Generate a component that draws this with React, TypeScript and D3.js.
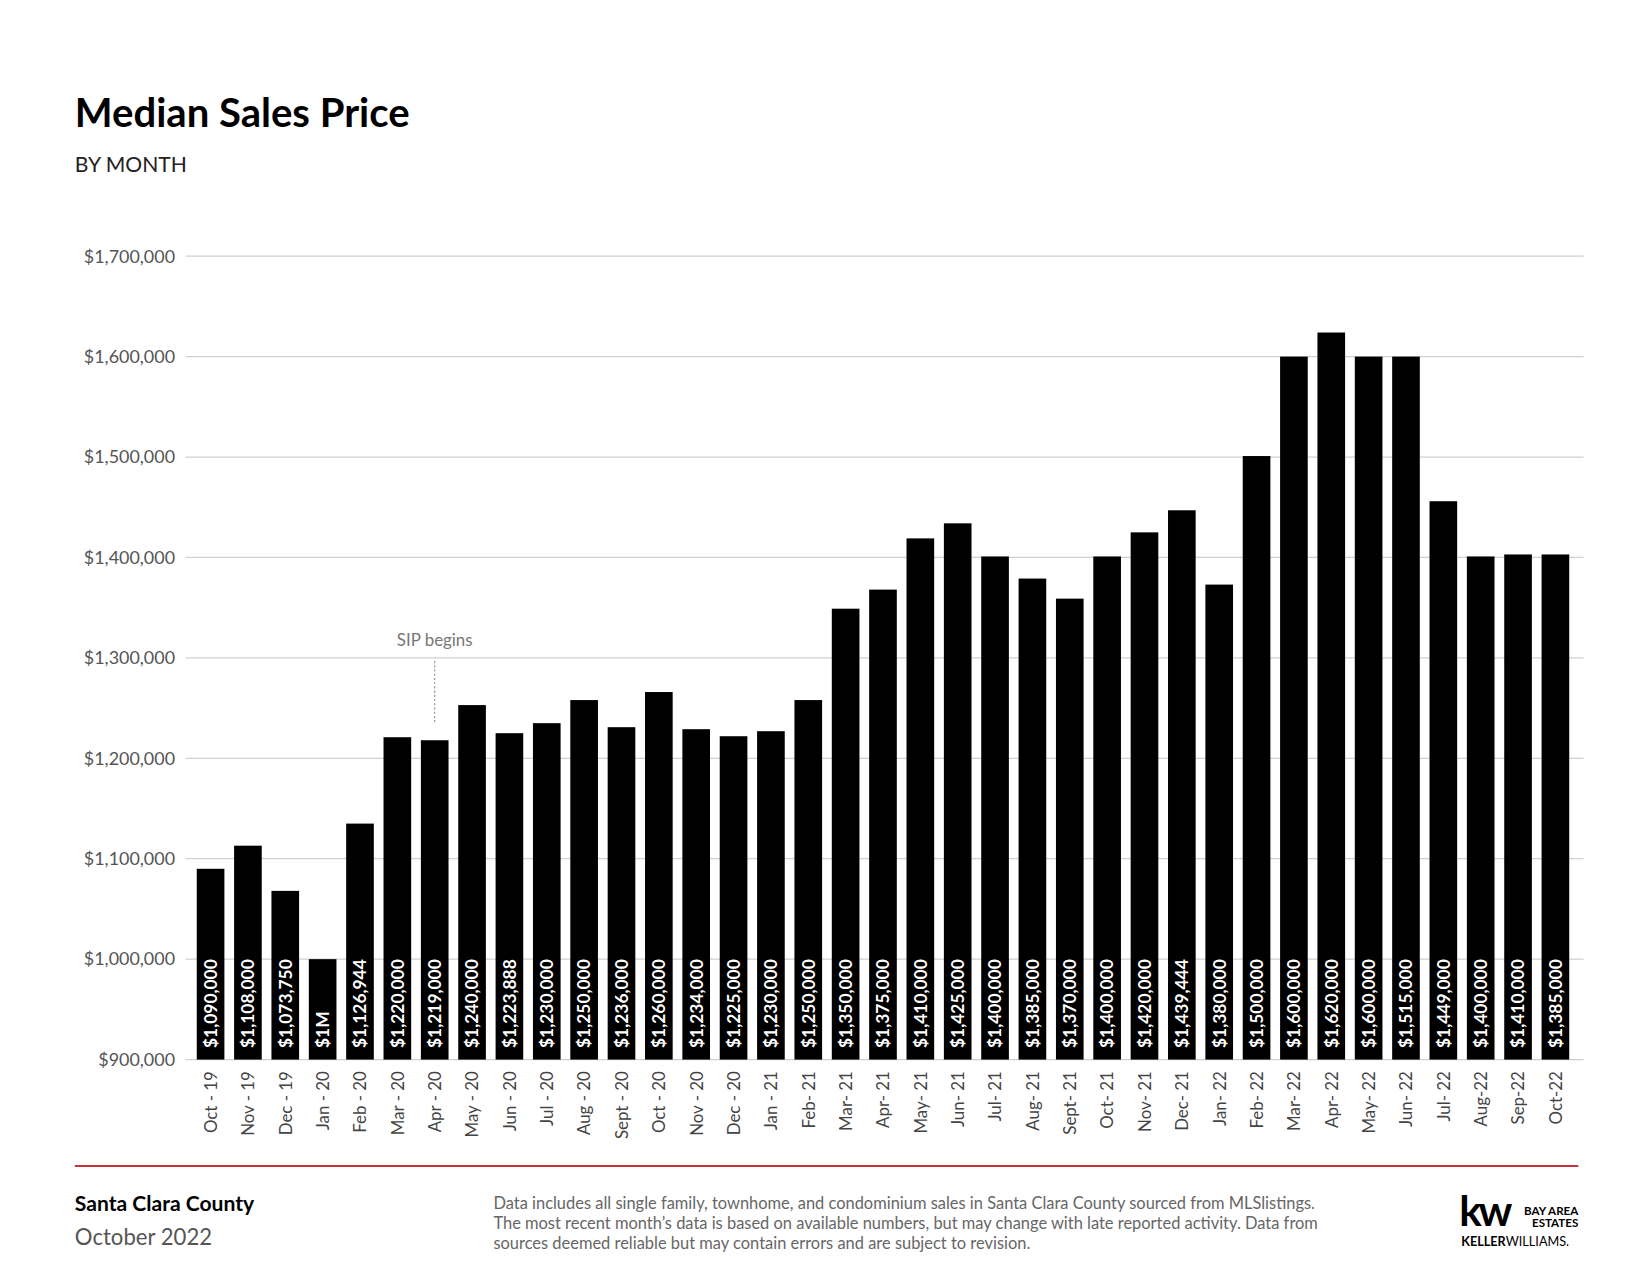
import React from "react";
import * as d3 from "d3";

const months = ["Oct - 19","Nov - 19","Dec - 19","Jan - 20","Feb - 20","Mar - 20","Apr - 20","May - 20","Jun - 20","Jul - 20","Aug - 20","Sept - 20","Oct - 20","Nov - 20","Dec - 20","Jan - 21","Feb- 21","Mar- 21","Apr- 21","May- 21","Jun- 21","Jul- 21","Aug- 21","Sept- 21","Oct- 21","Nov- 21","Dec- 21","Jan- 22","Feb- 22","Mar- 22","Apr- 22","May- 22","Jun- 22","Jul- 22","Aug-22","Sep-22","Oct-22"];
// bar heights as drawn in the reference
const barValues = [1090000,1113000,1068000,1000000,1135000,1221000,1218000,1253000,1225000,1235000,1258000,1231000,1266000,1229000,1222000,1227000,1258000,1349000,1368000,1419000,1434000,1401000,1379000,1359000,1401000,1425000,1447000,1373000,1501000,1600000,1624000,1600000,1600000,1456000,1401000,1403000,1403000];
// printed value labels
const valueLabels = ["$1,090,000","$1,108,000","$1,073,750","$1M","$1,126,944","$1,220,000","$1,219,000","$1,240,000","$1,223,888","$1,230,000","$1,250,000","$1,236,000","$1,260,000","$1,234,000","$1,225,000","$1,230,000","$1,250,000","$1,350,000","$1,375,000","$1,410,000","$1,425,000","$1,400,000","$1,385,000","$1,370,000","$1,400,000","$1,420,000","$1,439,444","$1,380,000","$1,500,000","$1,600,000","$1,620,000","$1,600,000","$1,515,000","$1,449,000","$1,400,000","$1,410,000","$1,385,000"];
const yTicks = [900000,1000000,1100000,1200000,1300000,1400000,1500000,1600000,1700000];

const font = "Lato, 'Open Sans', sans-serif";

export default function App() {
  const W = 1650, H = 1275;
  const k = 1650 / 1565;
  const x = d3.scaleBand(months, [182, 1493]).paddingInner(0.26).paddingOuter(0.13);
  const y = d3.scaleLinear([900000, 1700000], [1005, 243]);
  const fmt = (v: number) => "$" + d3.format(",")(v);
  return (
    <svg width={W} height={H} style={{ position: "absolute", left: 0, top: 0, background: "#fff" }} fontFamily={font}>
      <g transform={`scale(${k})`}>
        <text x={71} y={120} fontSize={38} fontWeight={700} fill="#000">Median Sales Price</text>
        <text x={71} y={163} fontSize={20} fill="#222">BY MONTH</text>
        {yTicks.map(t => (
          <g key={t}>
            <line x1={176} x2={1502} y1={y(t)} y2={y(t)} stroke="#d0d0d0" strokeWidth={1.2} />
            <text x={166} y={y(t) + 6} textAnchor="end" fontSize={17} fill="#555">{fmt(t)}</text>
          </g>
        ))}
        {months.map((m, i) => {
          const bx = x(m)!;
          const cx = bx + x.bandwidth() / 2;
          return (
            <g key={m}>
              <rect x={bx} y={y(barValues[i])} width={x.bandwidth()} height={y(900000) - y(barValues[i])} fill="#000" />
              <text transform={`translate(${cx + 6},994) rotate(-90)`} fontSize={16.5} fontWeight={700} fill="#fff">{valueLabels[i]}</text>
              <text transform={`translate(${cx + 6},1016) rotate(-90)`} textAnchor="end" fontSize={16} fill="#444">{m}</text>
            </g>
          );
        })}
        <text x={x("Apr - 20")! + x.bandwidth() / 2} y={613} textAnchor="middle" fontSize={16} fill="#777">SIP begins</text>
        <line x1={x("Apr - 20")! + x.bandwidth() / 2} x2={x("Apr - 20")! + x.bandwidth() / 2} y1={627} y2={686} stroke="#888" strokeDasharray="2,2" />
        <line x1={71} x2={1497} y1={1106} y2={1106} stroke="#c8323f" strokeWidth={2} />
        <text x={71} y={1149} fontSize={20} fontWeight={700} fill="#000">Santa Clara County</text>
        <text x={71} y={1181} fontSize={21} fill="#555">October 2022</text>
        {["Data includes all single family, townhome, and condominium sales in Santa Clara County sourced from MLSlistings.",
          "The most recent month’s data is based on available numbers, but may change with late reported activity. Data from",
          "sources deemed reliable but may contain errors and are subject to revision."].map((l, i) => (
          <text key={i} x={468} y={1147 + i * 19} fontSize={15.6} fill="#666">{l}</text>
        ))}
        <text x={1384} y={1163} fontSize={40} fontWeight={700} fill="#000" letterSpacing={-3}>kw</text>
        <text x={1497} y={1152} textAnchor="end" fontSize={11} fontWeight={700} fill="#000">BAY AREA</text>
        <text x={1497} y={1164} textAnchor="end" fontSize={11} fontWeight={700} fill="#000">ESTATES</text>
        <text x={1386} y={1182} fontSize={12} fill="#000"><tspan fontWeight={700}>KELLER</tspan>WILLIAMS.</text>
      </g>
    </svg>
  );
}
